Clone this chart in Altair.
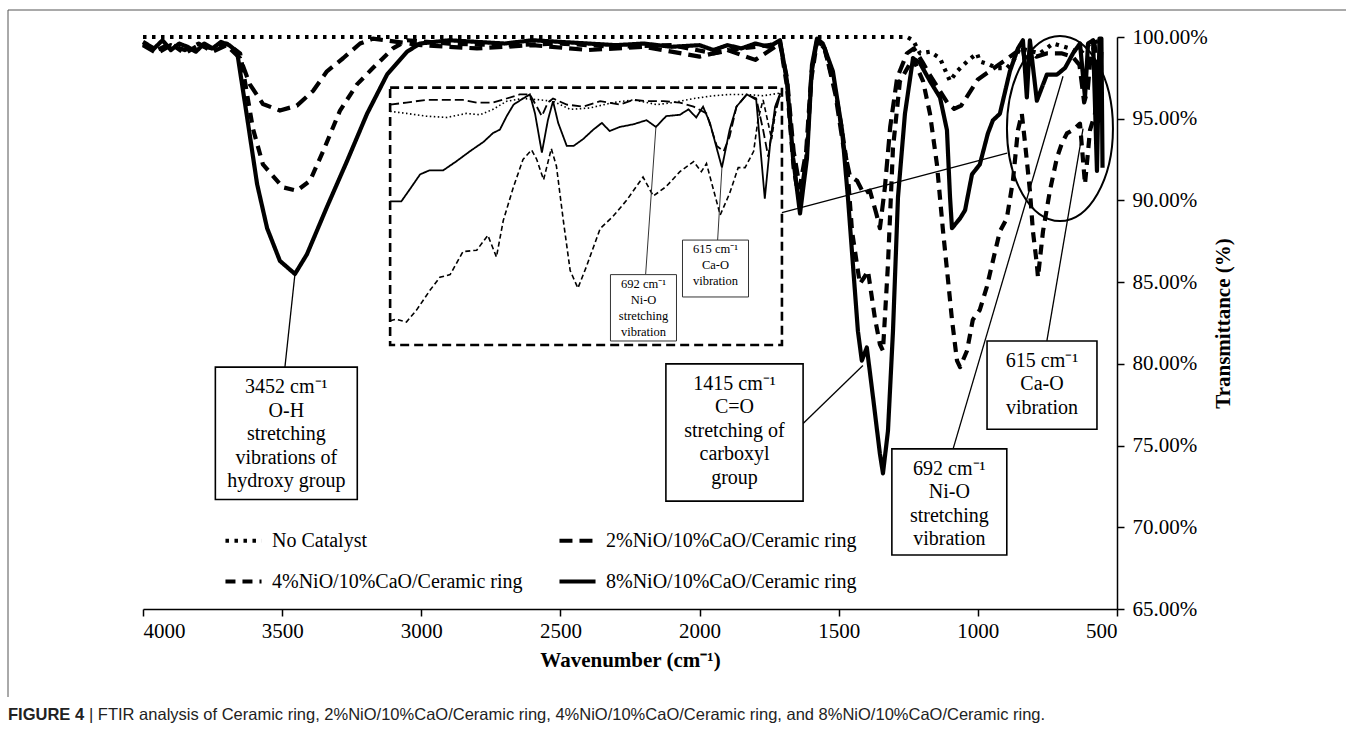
import altair as alt
import pandas as pd

# ---------------- main spectra: (wavenumber cm-1, transmittance %) ----------------
no_catalyst = [(4000, 100.0), (3700, 100.0), (3000, 100.0), (2000, 100.0), (1500, 100.0), (1255, 100.0),
               (1233, 99.8), (1208, 99.0), (1172, 99.1), (1136, 98.7), (1100, 97.3), (1075, 97.9),
               (1039, 98.5), (1003, 99.0), (993, 98.5), (957, 98.3), (932, 98.1), (896, 98.1),
               (874, 98.5), (849, 99.3), (777, 99.0), (730, 99.6), (669, 99.3), (633, 99.0),
               (597, 99.6), (555, 99.8)]

ni2 = [(4000, 99.5), (3950, 99.0), (3900, 99.5), (3850, 99.2), (3800, 99.6), (3750, 99.1), (3700, 99.5),
       (3651, 98.7), (3616, 97.1), (3569, 95.9), (3508, 95.5), (3447, 95.8), (3389, 96.7), (3339, 97.9),
       (3281, 98.7), (3220, 99.6), (3174, 99.9), (3000, 99.5), (2800, 99.3), (2600, 99.5), (2400, 99.2),
       (2200, 99.4), (2000, 98.8), (1900, 99.2), (1800, 98.6), (1711, 99.6), (1686, 97.5), (1662, 93.0),
       (1640, 90.8), (1617, 93.0), (1598, 97.8), (1578, 99.8), (1550, 99.3), (1512, 96.5), (1485, 93.5),
       (1460, 91.5), (1434, 91.2), (1410, 90.4), (1388, 90.6), (1365, 89.2), (1352, 88.3), (1334, 90.8),
       (1315, 94.5), (1290, 97.5), (1255, 99.0), (1230, 99.3), (1200, 98.5), (1170, 97.6), (1140, 96.8),
       (1110, 96.0), (1085, 95.6), (1060, 95.8), (1030, 96.6), (1000, 97.4), (950, 98.0), (900, 98.6),
       (860, 99.1), (840, 99.5), (825, 97.8), (812, 99.3), (790, 98.8), (750, 99.0), (700, 99.0),
       (660, 98.8), (635, 98.3), (618, 96.0), (605, 96.8), (595, 98.8), (580, 99.5), (565, 96.0),
       (555, 99.5)]

ni4 = [(4000, 99.6), (3950, 99.2), (3900, 99.6), (3850, 99.0), (3800, 99.5), (3750, 99.3), (3700, 99.6),
       (3651, 99.0), (3605, 94.4), (3569, 92.2), (3497, 90.8), (3447, 90.6), (3400, 91.2), (3353, 93.0),
       (3292, 95.5), (3231, 97.1), (3174, 98.1), (3102, 99.3), (3051, 99.8), (2900, 99.6), (2700, 99.5),
       (2500, 99.6), (2300, 99.4), (2100, 99.5), (1950, 99.0), (1850, 99.3), (1750, 99.5), (1711, 99.7),
       (1686, 97.0), (1662, 92.0), (1640, 89.8), (1617, 92.5), (1598, 97.5), (1578, 99.7), (1555, 99.5),
       (1515, 97.0), (1490, 94.5), (1470, 92.2), (1452, 88.1), (1424, 84.9), (1408, 85.3), (1395, 85.7),
       (1370, 82.8), (1352, 81.2), (1341, 80.8), (1323, 86.1), (1305, 93.2), (1280, 97.3), (1233, 98.7),
       (1197, 97.3), (1172, 95.3), (1147, 92.2), (1125, 88.1), (1107, 85.1), (1093, 82.7), (1075, 80.2),
       (1064, 79.8), (1039, 80.8), (1018, 82.7), (993, 83.3), (968, 84.7), (946, 86.3), (921, 88.1),
       (896, 88.9), (874, 91.2), (856, 94.3), (842, 95.3), (831, 93.6), (813, 90.6), (802, 88.1),
       (788, 86.1), (784, 85.3), (766, 88.1), (741, 90.6), (716, 92.6), (698, 93.5), (680, 94.1),
       (659, 94.3), (633, 94.7), (615, 91.0), (597, 94.3), (579, 95.3), (568, 98.3), (554, 99.3)]

ni8 = [(4000, 99.7), (3960, 99.3), (3930, 99.8), (3900, 99.2), (3870, 99.6), (3840, 99.4), (3810, 99.1),
       (3780, 99.6), (3750, 99.3), (3720, 99.7), (3690, 99.5), (3662, 99.1), (3626, 95.1), (3590, 91.0),
       (3554, 88.3), (3508, 86.3), (3454, 85.5), (3411, 86.7), (3339, 89.6), (3267, 92.4), (3195, 95.3),
       (3123, 97.7), (3051, 99.1), (3005, 99.6), (2900, 99.8), (2800, 99.7), (2700, 99.6), (2600, 99.8),
       (2500, 99.7), (2400, 99.6), (2300, 99.5), (2200, 99.6), (2100, 99.4), (2000, 99.5), (1950, 99.2),
       (1900, 99.5), (1850, 99.3), (1800, 99.6), (1750, 99.4), (1711, 99.8), (1686, 97.3), (1664, 92.6),
       (1639, 89.2), (1614, 92.6), (1596, 98.3), (1578, 99.9), (1557, 99.6), (1521, 97.9), (1488, 94.3),
       (1467, 90.2), (1449, 86.1), (1431, 82.0), (1417, 80.2), (1399, 81.0), (1377, 78.0), (1352, 74.5),
       (1341, 73.3), (1323, 75.9), (1305, 82.0), (1287, 90.2), (1262, 95.3), (1233, 98.7), (1208, 98.4),
       (1172, 97.3), (1136, 96.3), (1111, 94.3), (1100, 90.2), (1093, 88.3), (1064, 88.9), (1046, 89.4),
       (1021, 91.6), (993, 92.2), (964, 94.1), (946, 94.9), (921, 95.3), (885, 97.9), (856, 99.3),
       (838, 99.8), (824, 96.3), (813, 99.8), (788, 96.1), (752, 97.7), (716, 97.7), (687, 98.1),
       (658, 99.0), (633, 99.6), (615, 96.3), (604, 99.6), (586, 99.8), (572, 91.8), (563, 99.9),
       (556, 99.9), (552, 92.0)]

# ---------------- inset (zoom 1000-545 cm-1) ----------------
inset_nc = [(1002, 98.35), (983, 98.2), (960, 98.0), (936, 97.9), (913, 98.2), (897, 98.1), (882, 98.5),
            (866, 99.1), (847, 99.3), (827, 99.2), (812, 99.1), (792, 98.5), (769, 98.6), (742, 99.0),
            (718, 99.2), (691, 98.85), (672, 99.0), (648, 99.3), (625, 99.5), (606, 99.6), (586, 99.6),
            (567, 99.5), (547, 99.7)]
inset_ni2 = [(1002, 98.85), (983, 99.0), (960, 99.2), (936, 99.2), (917, 99.2), (901, 99.0), (882, 99.0),
             (866, 99.3), (851, 99.6), (839, 99.6), (831, 98.7), (825, 98.0), (818, 99.0), (812, 99.3),
             (796, 98.85), (777, 98.7), (757, 99.1), (734, 98.85), (718, 99.2), (703, 99.1), (683, 99.1),
             (664, 99.0), (648, 98.7), (633, 98.2), (621, 95.8), (613, 95.4), (606, 96.5), (598, 98.7),
             (586, 99.6), (575, 99.3), (567, 97.0), (561, 95.0), (555, 97.7), (547, 99.6)]
inset_ni4 = [(1002, 82.9), (995, 83.0), (983, 82.8), (971, 83.7), (956, 85.1), (944, 86.1), (932, 86.3),
             (917, 88.0), (901, 88.1), (888, 89.2), (878, 87.6), (870, 90.3), (858, 92.8), (847, 94.8),
             (837, 95.5), (831, 94.8), (823, 93.3), (814, 95.6), (808, 94.3), (800, 90.3), (792, 86.6),
             (783, 85.3), (773, 86.9), (757, 89.7), (742, 90.6), (726, 91.8), (707, 93.5), (695, 92.1),
             (680, 92.8), (664, 93.9), (648, 94.65), (639, 93.9), (633, 94.5), (625, 92.6), (617, 90.7),
             (606, 92.3), (596, 94.2), (588, 94.2), (578, 95.4), (573, 97.7), (567, 99.2), (557, 96.3),
             (551, 99.0), (545, 99.7)]
inset_ni8 = [(1002, 91.7), (989, 91.7), (979, 92.6), (967, 93.7), (956, 94.0), (940, 94.0), (925, 94.65),
             (909, 95.4), (893, 96.1), (882, 96.75), (874, 97.0), (866, 98.0), (858, 98.85), (847, 99.3),
             (839, 99.6), (833, 98.2), (825, 95.3), (818, 97.7), (812, 99.1), (806, 97.5), (796, 95.8),
             (788, 95.8), (777, 96.3), (765, 97.0), (755, 97.5), (746, 96.9), (734, 97.2), (718, 97.4),
             (703, 97.7), (692, 97.2), (680, 98.0), (664, 98.1), (654, 98.5), (645, 97.9), (637, 98.7),
             (629, 97.5), (615, 94.2), (606, 97.0), (598, 98.7), (586, 99.6), (575, 99.2), (565, 91.9),
             (559, 95.8), (553, 98.7), (547, 99.7)]

series_names = ["No Catalyst", "2%NiO/10%CaO/Ceramic ring",
                "4%NiO/10%CaO/Ceramic ring", "8%NiO/10%CaO/Ceramic ring"]
# legend fills column by column: column 1 = No Catalyst, 4%; column 2 = 2%, 8%
legend_order = [series_names[0], series_names[2], series_names[1], series_names[3]]
dash_by_series = {series_names[0]: [3.5, 5.5], series_names[1]: [13, 7],
                  series_names[2]: [10, 7], series_names[3]: [1, 0]}

x_ticks = [4000, 3500, 3000, 2500, 2000, 1500, 1000, 500]
y_ticks = [65, 70, 75, 80, 85, 90, 95, 100]

# annotation boxes (text, wn left, wn right, T bottom, T top)
box_text = ["3452 cm⁻¹\nO-H\nstretching\nvibrations of\nhydroxy group",
            "1415 cm⁻¹\nC=O\nstretching of\ncarboxyl\ngroup",
            "692 cm⁻¹\nNi-O\nstretching\nvibration",
            "615 cm⁻¹\nCa-O\nvibration"]
box_x1 = [3740, 2121, 1309, 967]
box_x2 = [3230, 1628, 896, 572]
box_y1 = [71.7, 71.6, 68.3, 76.0]
box_y2 = [79.8, 80.0, 74.8, 81.4]
# leader lines (from wn, T) -> (to wn, T)
lead_x1 = [3454, 1628, 1089, 752, 1704]
lead_y1 = [85.5, 76.35, 74.8, 81.4, 89.25]
lead_x2 = [3490, 1413, 694, 622, 895]
lead_y2 = [79.8, 79.9, 97.6, 94.4, 92.9]
ellipse_center = [(705, 94.4)]
inset_frame = [(3112, 1704, 81.15, 96.9)]

inset_box_text = ["692 cm⁻¹\nNi-O\nstretching\nvibration", "615 cm⁻¹\nCa-O\nvibration"]
inset_box_x1 = [745, 661]
inset_box_x2 = [668, 584]
inset_box_y1 = [81.4, 84.65]
inset_box_y2 = [86.3, 88.85]
inset_lead_x1 = [704, 620]
inset_lead_y1 = [86.3, 88.85]
inset_lead_x2 = [692, 615]
inset_lead_y2 = [97.2, 94.2]

caption_bold = "FIGURE 4"
caption_rest = "| FTIR analysis of Ceramic ring, 2%NiO/10%CaO/Ceramic ring, 4%NiO/10%CaO/Ceramic ring, and 8%NiO/10%CaO/Ceramic ring."

# ---------------- layout ----------------
W, H = 974, 572
LEFT, TOP = 143, 37
SERIF = "Liberation Serif"


def xpix(wn):
    return (4000 - wn) / 3500 * W


def ypix(t):
    return (100 - t) / 35 * H


def sdf(name, pts):
    return pd.DataFrame({"wn": [p[0] for p in pts], "t": [p[1] for p in pts], "series": name})


main_df = pd.concat([sdf(series_names[0], no_catalyst), sdf(series_names[1], ni2),
                     sdf(series_names[2], ni4), sdf(series_names[3], ni8)], ignore_index=True)

xscale = alt.Scale(domain=[500, 4000], reverse=True, nice=False, zero=False)
yscale = alt.Scale(domain=[65, 100], nice=False, zero=False)
xaxis = alt.Axis(values=x_ticks, format="d", title="Wavenumber (cm⁻¹)", labelFontSize=21,
                 titleFontSize=21, titleFontWeight="bold", tickSize=7, labelPadding=4, titlePadding=8,
                 domainWidth=1.5, tickWidth=1.5, grid=False)
yaxis = alt.Axis(orient="right", values=y_ticks, labelExpr="format(datum.value, '.2f') + '%'",
                 title="Transmittance (%)", titleAngle=270, labelFontSize=21, titleFontSize=21,
                 titleFontWeight="bold", tickSize=7, labelPadding=8, titlePadding=26,
                 domainWidth=1.5, tickWidth=1.5, grid=False)


def X(f):
    return alt.X(f, type="quantitative", scale=xscale, axis=xaxis)


def Y(f):
    return alt.Y(f, type="quantitative", scale=yscale, axis=yaxis)


lines = alt.Chart(main_df).mark_line(strokeWidth=4.2, strokeCap="butt", strokeJoin="round",
                                     color="black").encode(
    x=X("wn"), y=Y("t"),
    strokeDash=alt.StrokeDash("series:N", scale=alt.Scale(domain=legend_order,
                              range=[dash_by_series[s] for s in legend_order]),
                              legend=alt.Legend(orient="none", legendX=80, legendY=483, columns=2,
                                                title=None, symbolType="stroke", symbolStrokeWidth=4.2,
                                                symbolSize=1300, symbolStrokeColor="black",
                                                labelFont=SERIF, labelFontSize=20, labelColor="black",
                                                rowPadding=10, columnPadding=28, labelOffset=8,
                                                labelLimit=400, padding=0)),
    detail="series:N")

box_df = pd.DataFrame({"text": box_text, "x1": box_x1, "x2": box_x2, "y1": box_y1, "y2": box_y2})
lead_df = pd.DataFrame({"x1": lead_x1, "y1": lead_y1, "x2": lead_x2, "y2": lead_y2})
ell_df = pd.DataFrame({"wn": [p[0] for p in ellipse_center], "t": [p[1] for p in ellipse_center]})
frame_df = pd.DataFrame({"x1": [f[0] for f in inset_frame], "x2": [f[1] for f in inset_frame],
                         "y1": [f[2] for f in inset_frame], "y2": [f[3] for f in inset_frame]})

leaders = alt.Chart(lead_df).mark_rule(color="black", strokeWidth=1.3).encode(
    x=X("x1"), y=Y("y1"), x2="x2", y2="y2")
boxes = alt.Chart(box_df).mark_rect(fill="white", stroke="black", strokeWidth=1.6).encode(
    x=X("x1"), x2="x2", y=Y("y1"), y2="y2")
texts = alt.Chart(box_df).transform_calculate(
    cx="(datum.x1 + datum.x2) / 2"
).mark_text(font=SERIF, fontSize=20, lineHeight=23.5, lineBreak="\n", color="black",
            align="center", baseline="top", dy=10).encode(x=X("cx"), y=Y("y2"), text="text:N")
ell_rx = 53 / 92.5
ellipse = alt.Chart(ell_df).mark_point(
    shape=f"M {-ell_rx} 0 A {ell_rx} 1 0 1 0 {ell_rx} 0 A {ell_rx} 1 0 1 0 {-ell_rx} 0 Z",
    size=185 ** 2, filled=False, color="black", strokeWidth=2, opacity=1).encode(x=X("wn"), y=Y("t"))
inset_border = alt.Chart(frame_df).mark_rect(fillOpacity=0, stroke="black", strokeWidth=2.6,
                                             strokeDash=[9, 5]).encode(
    x=X("x1"), x2="x2", y=Y("y1"), y2="y2")

# caption and figure frame (decoration outside the plot)
deco = alt.Data(values=[{}])
frame_top = alt.Chart(deco).mark_rule(color="#555555", strokeWidth=1).encode(
    x=alt.value(-LEFT + 8), x2=alt.value(1346 - LEFT), y=alt.value(-TOP + 10), y2=alt.value(-TOP + 10))
frame_left = alt.Chart(deco).mark_rule(color="#555555", strokeWidth=1).encode(
    x=alt.value(-LEFT + 8), x2=alt.value(-LEFT + 8), y=alt.value(-TOP + 10), y2=alt.value(697 - TOP))
cap_font = "Liberation Sans Narrow, Liberation Sans, Arial, sans-serif"
cap1 = alt.Chart(deco).mark_text(text=caption_bold, font=cap_font, fontSize=16.5, fontWeight="bold",
                                 align="left", baseline="middle", color="#222222").encode(
    x=alt.value(-LEFT + 8), y=alt.value(715 - TOP))
cap2 = alt.Chart(deco).mark_text(text=caption_rest, font=cap_font, fontSize=16.5, align="left",
                                 baseline="middle", color="#222222").encode(
    x=alt.value(-LEFT + 89), y=alt.value(715 - TOP))

main_layer = alt.layer(lines, ellipse, leaders, boxes, texts, inset_border,
                       frame_top, frame_left, cap1, cap2)

# ---------------- inset layer with its own scales ----------------
ixs = alt.Scale(domain=[1002, 545], range=[xpix(inset_frame[0][0]), xpix(inset_frame[0][1])],
                nice=False, zero=False)
iys = alt.Scale(domain=[81.1, 100.1], range=[ypix(inset_frame[0][2]), ypix(inset_frame[0][3])],
                nice=False, zero=False)


def IX(f):
    return alt.X(f, type="quantitative", scale=ixs, axis=None)


def IY(f):
    return alt.Y(f, type="quantitative", scale=iys, axis=None)


def inset_line(pts, dash, width):
    df = pd.DataFrame({"wn": [p[0] for p in pts], "t": [p[1] for p in pts]})
    return alt.Chart(df).mark_line(color="black", strokeWidth=width, strokeDash=dash).encode(
        x=IX("wn"), y=IY("t"))


ibox_df = pd.DataFrame({"text": inset_box_text, "x1": inset_box_x1, "x2": inset_box_x2,
                        "y1": inset_box_y1, "y2": inset_box_y2})
ilead_df = pd.DataFrame({"x1": inset_lead_x1, "y1": inset_lead_y1, "x2": inset_lead_x2, "y2": inset_lead_y2})

ileaders = alt.Chart(ilead_df).mark_rule(color="#333333", strokeWidth=1).encode(
    x=IX("x1"), y=IY("y1"), x2="x2", y2="y2")
iboxes = alt.Chart(ibox_df).mark_rect(fill="white", stroke="#333333", strokeWidth=1).encode(
    x=IX("x1"), x2="x2", y=IY("y1"), y2="y2")
itexts = alt.Chart(ibox_df).transform_calculate(
    cx="(datum.x1 + datum.x2) / 2"
).mark_text(font=SERIF, fontSize=12.5, lineHeight=16, lineBreak="\n", color="black",
            align="center", baseline="top", dy=3).encode(x=IX("cx"), y=IY("y2"), text="text:N")

inset_layer = alt.layer(
    inset_line(inset_nc, [1.5, 2.5], 1.6),
    inset_line(inset_ni2, [9, 4], 1.8),
    inset_line(inset_ni4, [5, 3], 1.6),
    inset_line(inset_ni8, [1, 0], 1.8),
    ileaders, iboxes, itexts)

chart = alt.layer(main_layer, inset_layer).resolve_scale(
    x="independent", y="independent"
).properties(
    width=W, height=H,
    autosize=alt.AutoSizeParams(type="none"),
    padding={"left": LEFT, "top": TOP, "right": 1346 - LEFT - W, "bottom": 742 - TOP - H},
    background="white"
).configure_view(stroke=None).configure_axis(
    labelFont=SERIF, titleFont=SERIF, labelColor="black", titleColor="black",
    domainColor="black", tickColor="black")

chart.save("out.html", embed_options={"renderer": "svg", "actions": False})
